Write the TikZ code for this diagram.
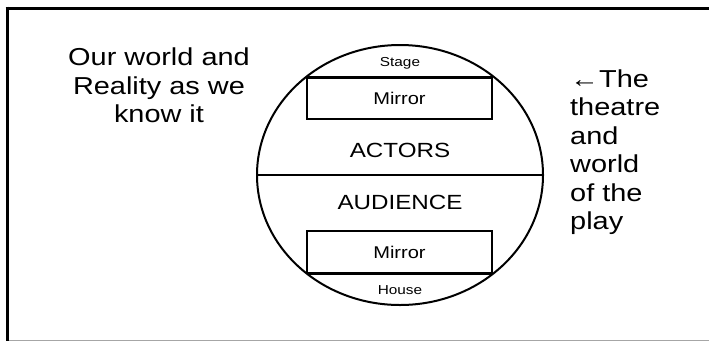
\documentclass[tikz,border=0pt]{standalone}
\usepackage{fontspec}
\setmainfont[FakeStretch=1.18]{Liberation Sans}
\usetikzlibrary{shapes.geometric, positioning}

\begin{document}
\begin{tikzpicture}[
    x=1pt, y=-1pt,
    world/.style={ellipse, draw=black, line width=2pt, minimum width=286pt, minimum height=260pt, inner sep=0pt, outer sep=0pt},
    mirror/.style={rectangle, draw=black, line width=2pt, minimum width=185pt, minimum height=42pt, inner sep=0pt, outer sep=0pt, font=\fontsize{17}{20}\selectfont},
    label/.style={inner sep=0pt, anchor=base},
    small/.style={label, font=\fontsize{13}{15}\selectfont},
    side/.style={label, font=\fontsize{20.5}{24}\selectfont},
    remark/.style={inner sep=0pt, font=\fontsize{24.5}{28.5}\selectfont}
]
\useasboundingbox (0,0) rectangle (709,341);

% Frame
\draw[line width=3.3pt] (5.5,8.3) -- (709,8.3);
\draw[line width=3.3pt] (7.7,6.6) -- (7.7,341);
\draw[gray!70, line width=1pt] (9,340) -- (709,340);

% Theatre
\node[world] (theatre) at (400,175) {};
\draw[line width=2.2pt] (theatre.west) -- (theatre.east);

% Mirrors
\node[mirror] (stagemirror) at (399.5,98) {Mirror};
\node[mirror] (housemirror) at (399.5,252) {Mirror};
\draw[line width=3pt] (stagemirror.north west) -- (stagemirror.north east);
\draw[line width=3pt] (housemirror.south west) -- (housemirror.south east);

% Labels
\node[small] (stage) at (400,66.7) {Stage};
\node[small] (house) at (400,294) {House};
\node[side] (actors) at (400,157) {ACTORS};
\node[side] (audience) at (400,209) {AUDIENCE};

% Remarks
\node[remark, align=center, anchor=north] (reality) at (159,48) {Our world and\\Reality as we\\know it};
\node[remark, align=left, anchor=north west] (play) at (570,69.5) {←The\\theatre\\and\\world\\of the\\play};

\end{tikzpicture}
\end{document}
